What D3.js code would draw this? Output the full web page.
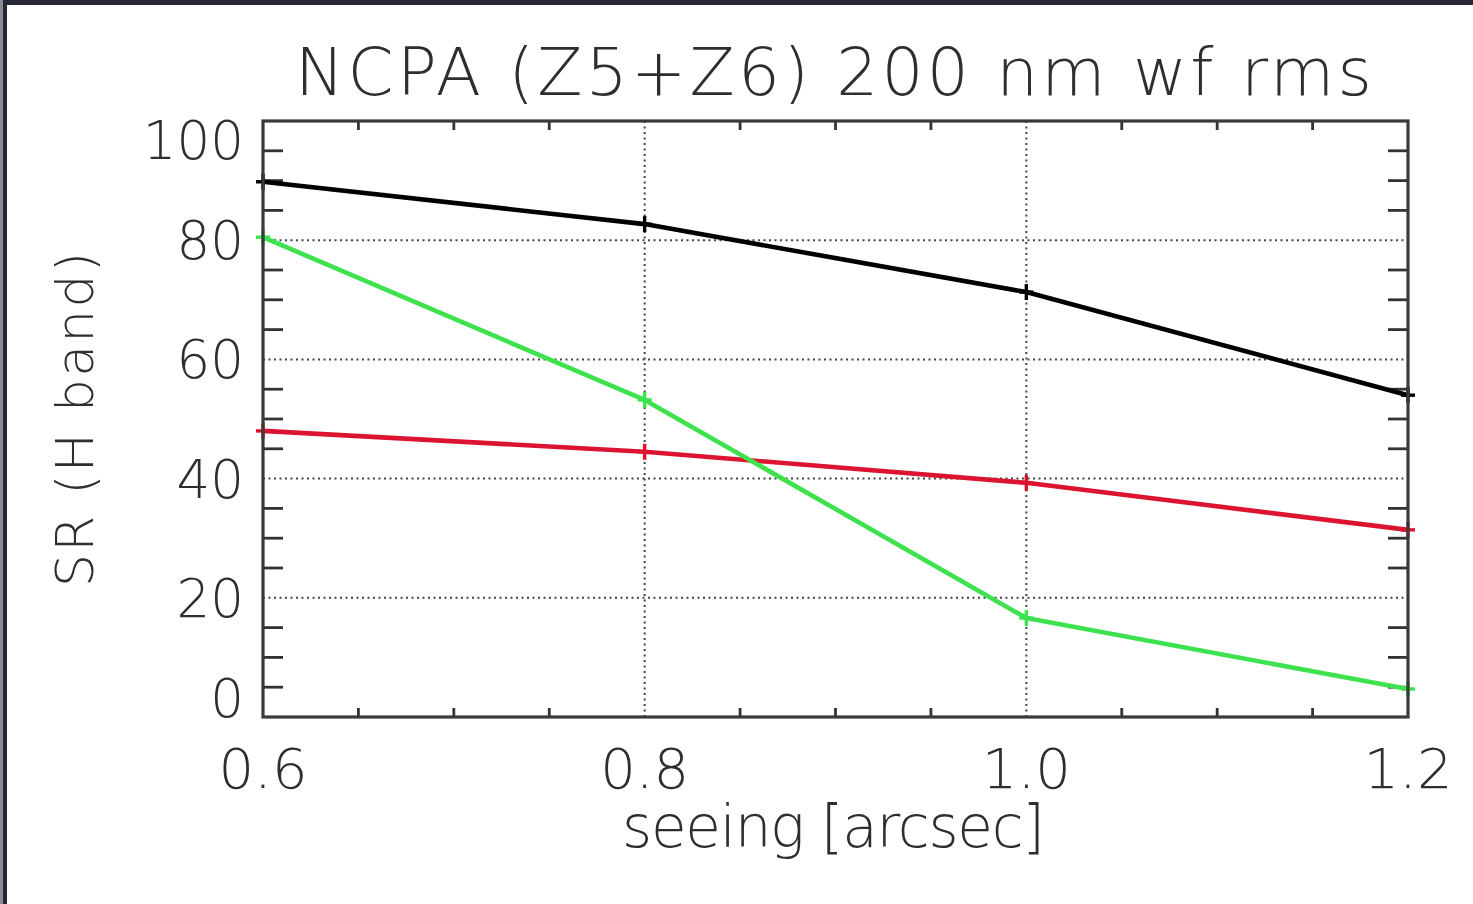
<!DOCTYPE html>
<html>
<head>
<meta charset="utf-8">
<script src="https://cdn.jsdelivr.net/npm/d3@7"></script>
<style>
  html, body { margin: 0; padding: 0; background: #fff; }
  svg { display: block; }
  text { font-family: "DejaVu Sans", "Liberation Sans", sans-serif; font-weight: 200; fill: #2e2e2e; }
</style>
</head>
<body>
<svg id="chart" width="1473" height="904"></svg>
<script>
// Seeing values (arcsec) and Strehl ratio in H band (%)
const seeing = [0.6, 0.8, 1.0, 1.2];
const srBlack = [89.8, 82.7, 71.3, 54.0];
const srRed   = [48.0, 44.5, 39.3, 31.4];
const srGreen = [80.5, 53.2, 16.6, 4.7];

const xTickValues = [0.6, 0.8, 1.0, 1.2];
const xTickLabels = ["0.6", "0.8", "1.0", "1.2"];
const yTickValues = [0, 20, 40, 60, 80, 100];
const yTickLabels = ["0", "20", "40", "60", "80", "100"];
const xMinor = [0.65, 0.7, 0.75, 0.85, 0.9, 0.95, 1.05, 1.1, 1.15];
const yMinor = [5, 10, 15, 25, 30, 35, 45, 50, 55, 65, 70, 75, 85, 90, 95];
const xGrid = [0.8, 1.0];
const yGrid = [20, 40, 60, 80];

const titleText = "NCPA (Z5+Z6) 200 nm wf rms";
const xLabelText = "seeing [arcsec]";
const yLabelText = "SR (H band)";

const series = [
  { values: srBlack, color: "#000000" },
  { values: srRed,   color: "#dc1430" },
  { values: srGreen, color: "#3ee24e" }
];

const svg = d3.select("#chart");
const W = 1473, H = 904;
const plotLeft = 263, plotRight = 1408, plotTop = 121, plotBottom = 717;

// outer frame of the figure
svg.append("rect").attr("x", 0).attr("y", 0).attr("width", W).attr("height", H).attr("fill", "#fff");
svg.append("rect").attr("x", 0).attr("y", 0).attr("width", W).attr("height", 5).attr("fill", "#262934");
svg.append("rect").attr("x", 0).attr("y", 0).attr("width", 3).attr("height", H).attr("fill", "#8a8b94");
svg.append("rect").attr("x", 3).attr("y", 0).attr("width", 4).attr("height", H).attr("fill", "#262934");

const x = d3.scaleLinear().domain([0.6, 1.2]).range([plotLeft, plotRight]);
const y = d3.scaleLinear().domain([0, 100]).range([plotBottom, plotTop]);

// dotted grid lines
const grid = svg.append("g").attr("stroke", "#444").attr("stroke-width", 2).attr("stroke-dasharray", "2,3.5");
grid.selectAll("line.gx").data(xGrid).join("line").attr("class", "gx")
  .attr("x1", d => x(d)).attr("x2", d => x(d)).attr("y1", plotTop).attr("y2", plotBottom);
grid.selectAll("line.gy").data(yGrid).join("line").attr("class", "gy")
  .attr("x1", plotLeft).attr("x2", plotRight).attr("y1", d => y(d)).attr("y2", d => y(d));

// minor ticks on all four sides
const tk = svg.append("g").attr("stroke", "#333").attr("stroke-width", 2.8);
tk.selectAll("line.yl").data(yMinor).join("line").attr("class", "yl")
  .attr("x1", plotLeft).attr("x2", plotLeft + 20).attr("y1", d => y(d)).attr("y2", d => y(d));
tk.selectAll("line.yr").data(yMinor).join("line").attr("class", "yr")
  .attr("x1", plotRight).attr("x2", plotRight - 20).attr("y1", d => y(d)).attr("y2", d => y(d));
tk.selectAll("line.xb").data(xMinor).join("line").attr("class", "xb")
  .attr("x1", d => x(d)).attr("x2", d => x(d)).attr("y1", plotBottom).attr("y2", plotBottom - 9);
tk.selectAll("line.xt").data(xMinor).join("line").attr("class", "xt")
  .attr("x1", d => x(d)).attr("x2", d => x(d)).attr("y1", plotTop).attr("y2", plotTop + 9);

// data lines with plus markers
const line = d3.line().x((d, i) => x(seeing[i])).y(d => y(d));
series.forEach(s => {
  svg.append("path").datum(s.values).attr("d", line)
    .attr("fill", "none").attr("stroke", s.color).attr("stroke-width", 4.6)
    .attr("stroke-linejoin", "round");
  const m = svg.append("g").attr("stroke", s.color).attr("stroke-width", 3.4);
  s.values.forEach((v, i) => {
    const cx = x(seeing[i]), cy = y(v);
    m.append("line").attr("x1", cx - 7).attr("x2", cx + 7).attr("y1", cy).attr("y2", cy);
    m.append("line").attr("x1", cx).attr("x2", cx).attr("y1", cy - 8).attr("y2", cy + 8);
  });
});

// plot box
svg.append("rect").attr("x", plotLeft).attr("y", plotTop)
  .attr("width", plotRight - plotLeft).attr("height", plotBottom - plotTop)
  .attr("fill", "none").attr("stroke", "#3a3a3a").attr("stroke-width", 3.2);

// x tick labels
svg.append("g").selectAll("text").data(xTickValues).join("text")
  .attr("x", d => x(d)).attr("y", 788)
  .attr("text-anchor", "middle").attr("font-size", 56)
  .text((d, i) => xTickLabels[i]);

// y tick labels, kept inside the axis span at the ends
const half = 19;
svg.append("g").selectAll("text").data(yTickValues).join("text")
  .attr("x", 244)
  .attr("y", d => Math.min(Math.max(y(d), plotTop + half), plotBottom - half) + half)
  .attr("text-anchor", "end").attr("font-size", 53)
  .text((d, i) => yTickLabels[i]);

// title and axis titles
svg.append("text").attr("x", 295).attr("y", 95).attr("font-size", 66)
  .attr("textLength", 1077).attr("lengthAdjust", "spacing").text(titleText);
svg.append("text").attr("x", 622).attr("y", 847).attr("font-size", 58)
  .attr("textLength", 423).attr("lengthAdjust", "spacing").text(xLabelText);
svg.append("text").attr("transform", "translate(93,587) rotate(-90)")
  .attr("font-size", 52).attr("textLength", 335).attr("lengthAdjust", "spacing").text(yLabelText);
</script>
</body>
</html>
